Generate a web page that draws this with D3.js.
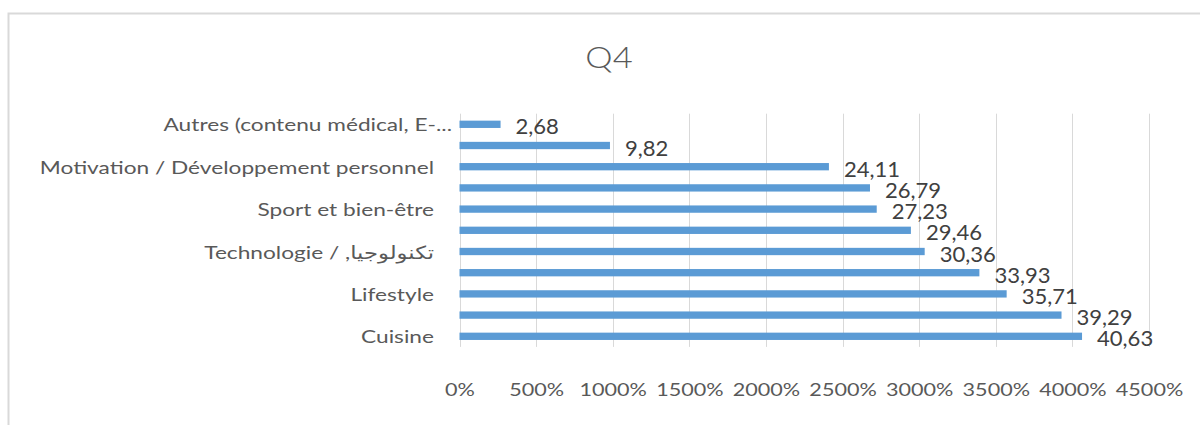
<!DOCTYPE html>
<html>
<head>
<meta charset="utf-8">
<script src="https://cdn.jsdelivr.net/npm/d3@7"></script>
<style>
  html, body { margin: 0; padding: 0; background: #fff; }
  svg { display: block; }
  text { font-family: Lato, "DejaVu Sans", sans-serif; }
</style>
</head>
<body>
<svg id="chart" width="1200" height="425"></svg>
<script>
// Category labels, top to bottom (the axis only prints every other one)
const categories = [
  "Autres (contenu médical, E-...",
  "",
  "Motivation / Développement personnel",
  "",
  "Sport et bien-être",
  "",
  "Technologie /  ,تكنولوجيا",
  "",
  "Lifestyle",
  "",
  "Cuisine"
];
// Share of respondents per category
const values = [2.68, 9.82, 24.11, 26.79, 27.23, 29.46, 30.36, 33.93, 35.71, 39.29, 40.63];
// Value axis ticks
const xTicks = [0, 5, 10, 15, 20, 25, 30, 35, 40, 45];
const title = "Q4";

const svg = d3.select("#chart");
const W = 1200, H = 425;

const plot = { left: 459.5, right: 1149, top: 113.7, bottom: 346.9 };

const x = d3.scaleLinear().domain([0, 45]).range([plot.left, plot.right]);
const y = d3.scaleBand()
  .domain(d3.range(categories.length))
  .range([plot.top, plot.bottom])
  .paddingInner(0.655)
  .paddingOuter(0.3275);

const locale = d3.formatLocale({ decimal: ",", thousands: " ", grouping: [3], currency: ["", " €"] });
const fmtValue = locale.format(".2f");
const fmtTick = v => (v * 100) + "%";

// Chart frame
svg.append("rect")
  .attr("x", 8.5).attr("y", 13.5)
  .attr("width", W).attr("height", H)
  .attr("fill", "none")
  .attr("stroke", "#d9d9d9")
  .attr("stroke-width", 2);

// Title
svg.append("text")
  .attr("transform", `translate(609,68) scale(1.15,1)`)
  .attr("text-anchor", "middle")
  .attr("font-size", 30)
  .attr("font-weight", 300)
  .attr("fill", "#595959")
  .text(title);

// Vertical gridlines
svg.append("g")
  .selectAll("line")
  .data(xTicks)
  .join("line")
  .attr("x1", d => Math.round(x(d)) + 0.5)
  .attr("x2", d => Math.round(x(d)) + 0.5)
  .attr("y1", plot.top)
  .attr("y2", plot.bottom)
  .attr("stroke", "#d9d9d9")
  .attr("stroke-width", 1);

// Value axis labels
const xAxis = d3.axisBottom(x).tickValues(xTicks).tickFormat(fmtTick).tickSize(0).tickPadding(0);
const gx = svg.append("g").call(xAxis);
gx.select(".domain").remove();
gx.selectAll(".tick text")
  .attr("y", null).attr("dy", null)
  .attr("transform", "translate(0,395.5) scale(1.2,1)")
  .attr("font-size", 18)
  .attr("font-family", null)
  .attr("fill", "#595959");

// Category axis labels (truncated labels sit a little further right)
const yAxis = d3.axisLeft(y).tickFormat(i => categories[i]).tickSize(0).tickPadding(0);
const gy = svg.append("g").attr("transform", "translate(434,0)").call(yAxis);
gy.select(".domain").remove();
gy.selectAll(".tick text")
  .attr("x", null).attr("dy", null)
  .attr("transform", i => `translate(${categories[i].endsWith("...") ? 18 : 0},7) scale(1.26,1)`)
  .attr("font-size", 18)
  .attr("font-family", null)
  .attr("direction", "ltr")
  .attr("fill", "#595959");

// Bars
svg.append("g")
  .selectAll("rect")
  .data(values)
  .join("rect")
  .attr("x", x(0))
  .attr("y", (d, i) => y(i))
  .attr("width", d => x(d) - x(0))
  .attr("height", y.bandwidth())
  .attr("fill", "#5b9bd5");

// Data labels
svg.append("g")
  .selectAll("text")
  .data(values)
  .join("text")
  .attr("transform", (d, i) => `translate(${x(d) + 15},${y(i) + y.bandwidth() / 2 + 10}) scale(1.05,1)`)
  .attr("font-size", 21)
  .attr("fill", "#404040")
  .text(d => fmtValue(d));
</script>
</body>
</html>
